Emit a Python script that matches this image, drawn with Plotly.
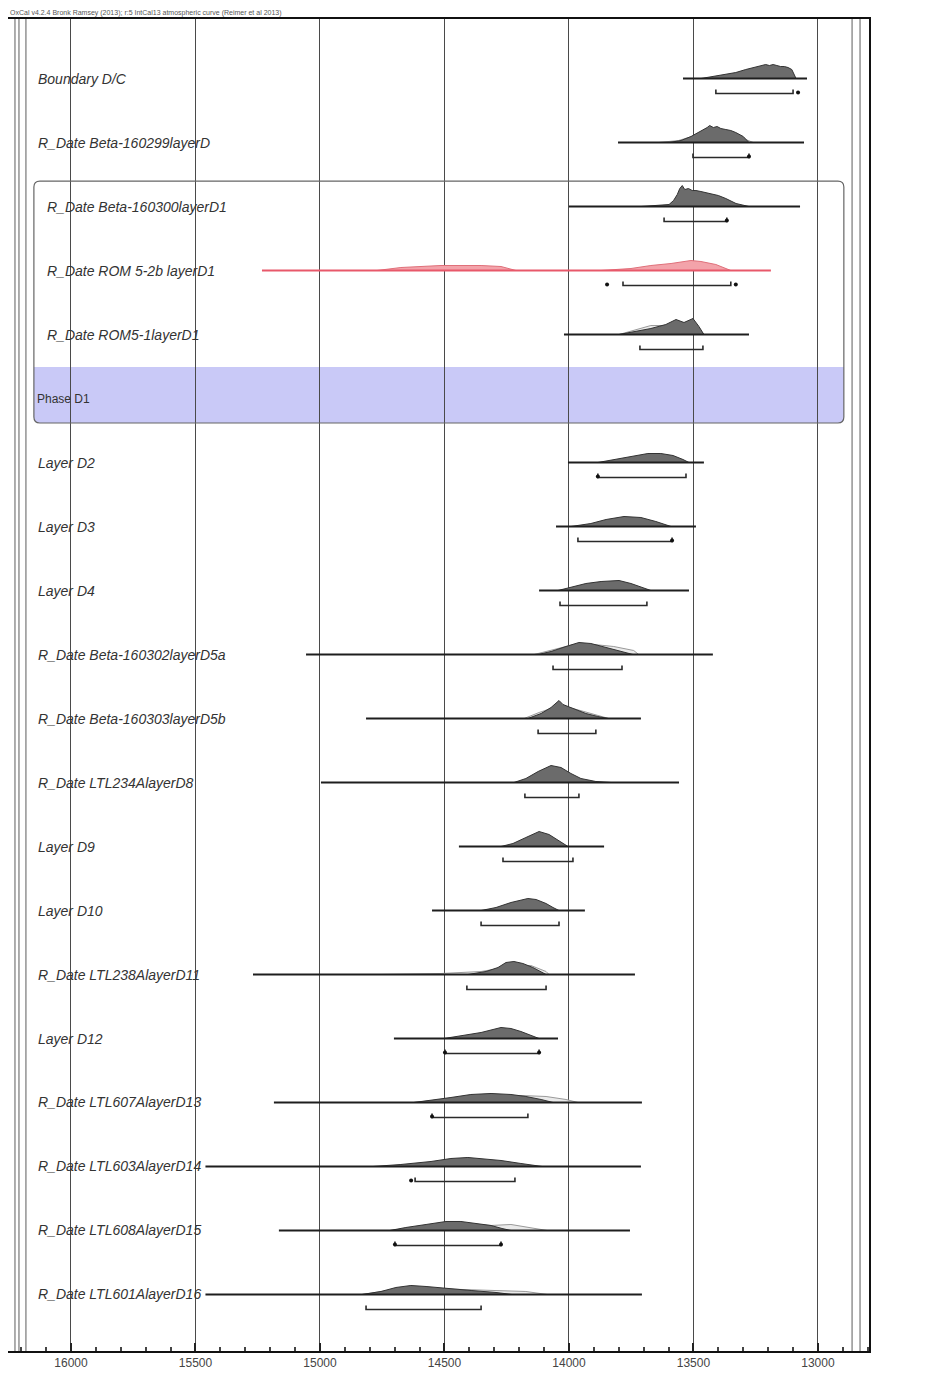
import plotly.graph_objects as go

# ---------------- data (calendar years cal BP) ----------------
labels = ["Boundary D/C", "R_Date Beta-160299layerD", "R_Date Beta-160300layerD1",
          "R_Date ROM 5-2b layerD1", "R_Date ROM5-1layerD1", "Phase D1",
          "Layer D2", "Layer D3", "Layer D4", "R_Date Beta-160302layerD5a",
          "R_Date Beta-160303layerD5b", "R_Date LTL234AlayerD8", "Layer D9", "Layer D10",
          "R_Date LTL238AlayerD11", "Layer D12", "R_Date LTL607AlayerD13",
          "R_Date LTL603AlayerD14", "R_Date LTL608AlayerD15", "R_Date LTL601AlayerD16"]

base_from = [13542, 13803, 14000, 15233, 14020, None, 14004, 14052, 14120, 15056,
             14815, 14996, 14442, 14550, 15269, 14703, 15185, 15460, 15165, 15460]
base_to = [13044, 13056, 13072, 13189, 13277, None, 13458, 13490, 13518, 13422,
           13711, 13558, 13859, 13936, 13735, 14044, 13707, 13711, 13755, 13707]

post_years = [
    [13470, 13390, 13330, 13290, 13260, 13240, 13225, 13210, 13195, 13180, 13165, 13150,
     13135, 13120, 13105, 13095, 13088],
    [13598, 13550, 13510, 13480, 13460, 13445, 13435, 13420, 13405, 13390, 13370, 13350,
     13330, 13300, 13277],
    [13711, 13640, 13598, 13580, 13565, 13555, 13545, 13535, 13520, 13505, 13490, 13470,
     13450, 13430, 13400, 13370, 13329, 13277],
    [14771, 14675, 14514, 14353, 14273, 14213, 13871, 13751, 13671, 13590, 13510, 13470, 13410, 13350],
    [13799, 13731, 13671, 13611, 13570, 13538, 13502, 13478, 13458],
    [],
    [13884, 13811, 13751, 13683, 13631, 13582, 13542, 13518],
    [13992, 13912, 13851, 13779, 13711, 13651, 13590],
    [14044, 13992, 13932, 13871, 13799, 13751, 13703, 13671],
    [14124, 14072, 14012, 13960, 13912, 13851, 13791, 13743],
    [14165, 14112, 14072, 14040, 14024, 13984, 13932, 13884, 13843],
    [14221, 14173, 14124, 14072, 14032, 13992, 13952, 13892, 13831],
    [14273, 14225, 14173, 14120, 14080, 14040, 14004],
    [14353, 14293, 14233, 14165, 14132, 14092, 14064, 14040],
    [14406, 14333, 14285, 14253, 14221, 14185, 14145, 14112, 14092],
    [14502, 14434, 14353, 14273, 14233, 14193, 14153, 14120],
    [14623, 14554, 14474, 14394, 14313, 14233, 14173, 14112, 14064],
    [14787, 14675, 14554, 14474, 14406, 14353, 14273, 14193, 14108],
    [14719, 14655, 14574, 14494, 14434, 14373, 14313, 14269, 14233],
    [14831, 14755, 14695, 14635, 14574, 14494, 14393, 14293, 14229],
]
post_dens = [
    [0, 3, 6, 9, 11, 12, 13, 14, 13, 14, 13, 12, 12, 11, 9, 4, 0],
    [0, 2, 6, 10, 13, 15, 17, 15, 16, 14, 13, 12, 10, 6, 0],
    [0, 1, 2, 6, 12, 18, 21, 17, 18, 16, 16, 15, 14, 13, 11, 8, 3, 0],
    [0, 3, 5, 5, 4, 0, 0, 2, 5, 7, 10, 9, 6, 0],
    [0, 3, 6, 10, 15, 12, 16, 8, 0],
    [],
    [0, 3, 6, 9, 9, 7, 3, 0],
    [0, 3, 7, 10, 9, 5, 0],
    [0, 3, 7, 9, 10, 7, 3, 0],
    [0, 3, 8, 12, 11, 7, 3, 0],
    [0, 5, 11, 18, 14, 10, 5, 2, 0],
    [0, 4, 11, 17, 15, 9, 4, 1, 0],
    [0, 3, 9, 15, 12, 6, 0],
    [0, 3, 8, 12, 11, 7, 3, 0],
    [0, 3, 7, 12, 13, 11, 7, 3, 0],
    [0, 3, 6, 11, 10, 7, 3, 0],
    [0, 2, 5, 8, 9, 8, 6, 3, 0],
    [0, 2, 5, 8, 9, 8, 6, 3, 0],
    [0, 3, 6, 9, 9, 7, 5, 2, 0],
    [0, 3, 7, 9, 8, 6, 4, 2, 0],
]

# unmodelled (likelihood) outlines, light grey
like_rows = [1, 4, 9, 10, 14, 16, 18, 19]
like_years = [
    [13640, 13560, 13480, 13440, 13400, 13340, 13290, 13260],
    [13799, 13731, 13671, 13611, 13570, 13538, 13502, 13478, 13458],
    [14140, 14060, 13980, 13900, 13820, 13740, 13720],
    [14180, 14120, 14060, 14000, 13940, 13880, 13840],
    [14755, 14514, 14353, 14233, 14153, 14092, 14080],
    [14623, 14474, 14313, 14193, 14092, 14012, 13964],
    [14719, 14554, 14434, 14313, 14233, 14153, 14088],
    [14831, 14675, 14554, 14393, 14273, 14173, 14088],
]
like_dens = [
    [0, 2, 8, 11, 10, 7, 3, 0],
    [0, 5, 9, 9, 10, 11, 12, 6, 0],
    [0, 5, 10, 10, 8, 4, 0],
    [0, 6, 11, 11, 7, 3, 0],
    [0, 1, 3, 8, 9, 3, 0],
    [0, 4, 7, 7, 6, 3, 0],
    [0, 5, 7, 5, 6, 3, 0],
    [0, 6, 6, 5, 4, 3, 0],
]

# 95.4% ranges (brackets) and extra range dots
range_from = [13410, 13502, 13618, 13783, 13715, None, 13884, 13964, 14036, 14064,
              14124, 14177, 14265, 14353, 14410, 14498, 14550, 14618, 14699, 14815]
range_to = [13100, 13277, 13366, 13350, 13462, None, 13530, 13586, 13687, 13787,
            13892, 13960, 13984, 14040, 14092, 14120, 14165, 14217, 14273, 14353]
dot_rows = [0, 1, 2, 3, 3, 6, 7, 15, 15, 16, 17, 18, 18]
dot_years = [13080, 13277, 13366, 13847, 13330, 13884, 13586, 14498, 14120, 14550, 14634, 14699, 14273]

red_row = 3
boxed_rows = [2, 3, 4]
phase_row = 5

tick_years = [16000, 15500, 15000, 14500, 14000, 13500, 13000]
header = "OxCal v4.2.4 Bronk Ramsey (2013); r:5 IntCal13 atmospheric curve (Reimer et al 2013)"

# ---------------- drawing ----------------
PX = 1 / 64.0          # one pixel in row units
X_LEFT, X_RIGHT = 16253, 12795
Y_TOP, Y_BOT = -0.93, 19.883

fig = go.Figure()
shapes = []

# Phase box (rounded), blue phase band
bx0, bx1 = 16149, 12896
by0, by1, band_top = 1.602, 5.383, 4.508
rx, ry = 24, 6 * PX
band_path = (f"M {bx0},{band_top} L {bx1},{band_top} L {bx1},{by1 - ry} "
             f"Q {bx1},{by1} {bx1 + rx},{by1} L {bx0 - rx},{by1} Q {bx0},{by1} {bx0},{by1 - ry} Z")
shapes.append(dict(type="path", path=band_path, xref="x", yref="y", layer="below",
                   fillcolor="#c9c9f7", line=dict(width=0)))
box_path = (f"M {bx0 - rx},{by0} L {bx1 + rx},{by0} Q {bx1},{by0} {bx1},{by0 + ry} "
            f"L {bx1},{by1 - ry} Q {bx1},{by1} {bx1 + rx},{by1} L {bx0 - rx},{by1} "
            f"Q {bx0},{by1} {bx0},{by1 - ry} L {bx0},{by0 + ry} Q {bx0},{by0} {bx0 - rx},{by0} Z")
shapes.append(dict(type="path", path=box_path, xref="x", yref="y", layer="above",
                   line=dict(color="#666666", width=1.2)))

# structure lines at the edges
for xv in [16225, 16209, 16181, 12863, 12831]:
    shapes.append(dict(type="line", xref="x", yref="paper", x0=xv, x1=xv, y0=0, y1=1,
                       line=dict(color="#777777", width=1.2), layer="above"))

# likelihoods (light)
for r, ys, ds in zip(like_rows, like_years, like_dens):
    fig.add_trace(go.Scatter(x=ys, y=[r - d * PX for d in ds], mode="lines", fill="toself",
                             fillcolor="rgba(232,232,232,0.9)", line=dict(color="#9a9a9a", width=1),
                             hoverinfo="skip", showlegend=False))

for r in range(len(labels)):
    if r == phase_row:
        continue
    red = (r == red_row)
    # posterior
    if post_years[r]:
        fig.add_trace(go.Scatter(x=post_years[r], y=[r - d * PX for d in post_dens[r]], mode="lines",
                                 fill="toself",
                                 fillcolor="#f3a3aa" if red else "#6b6b6b",
                                 line=dict(color="#e0707a" if red else "#333333", width=1),
                                 hoverinfo="skip", showlegend=False))
    # baseline
    fig.add_trace(go.Scatter(x=[base_from[r], base_to[r]], y=[r, r], mode="lines",
                             line=dict(color="#e8586a" if red else "#1e1e1e", width=2),
                             hoverinfo="skip", showlegend=False))
    # range bracket
    yb = r + 15 * PX
    yt = yb - 4 * PX
    fig.add_trace(go.Scatter(x=[range_from[r], range_from[r], range_to[r], range_to[r]],
                             y=[yt, yb, yb, yt], mode="lines",
                             line=dict(color="#2a2a2a", width=1.6),
                             hoverinfo="skip", showlegend=False))

fig.add_trace(go.Scatter(x=dot_years, y=[r + 14 * PX for r in dot_rows], mode="markers",
                         marker=dict(color="#111111", size=4), hoverinfo="skip", showlegend=False))

annotations = []
for r, lab in enumerate(labels):
    if r == phase_row:
        annotations.append(dict(text=lab, xref="paper", yref="y", x=(34 - 7) / 861, y=r,
                                xanchor="left", yanchor="middle", showarrow=False,
                                font=dict(family="Liberation Sans, Arial", size=12, color="#333333")))
        continue
    xp = (44 - 7) / 861 if r in boxed_rows else (35 - 7) / 861
    annotations.append(dict(text=lab, xref="paper", yref="y", x=xp, y=r,
                            xanchor="left", yanchor="middle", showarrow=False,
                            font=dict(family="Liberation Sans, Arial", size=14, color="#333333",
                                      style="italic")))
annotations.append(dict(text=header, xref="paper", yref="paper", x=0, y=1, yshift=0,
                        xanchor="left", yanchor="bottom", showarrow=False,
                        font=dict(family="Liberation Sans, Arial", size=7, color="#555555")))

fig.update_layout(
    width=936, height=1378,
    margin=dict(l=0, r=75, t=11, b=35),
    paper_bgcolor="white", plot_bgcolor="white",
    shapes=shapes, annotations=annotations,
    hovermode=False,
    xaxis=dict(range=[X_LEFT, X_RIGHT], tickvals=tick_years, ticktext=[str(t) for t in tick_years],
               ticks="inside", ticklen=8, tickwidth=1.5, tickcolor="#222222",
               minor=dict(dtick=100, ticks="inside", ticklen=4, tickcolor="#444444", showgrid=False),
               showgrid=True, gridcolor="#4a4a4a", gridwidth=1,
               showline=True, linecolor="#111111", linewidth=2, mirror=True, zeroline=False,
               tickfont=dict(family="Liberation Sans, Arial", size=12, color="#444444")),
    yaxis=dict(range=[Y_BOT, Y_TOP], showticklabels=False, ticks="", showgrid=False,
               zeroline=False, showline=True, linecolor="#111111", linewidth=2, mirror=True),
)

fig.write_html("out.html")
